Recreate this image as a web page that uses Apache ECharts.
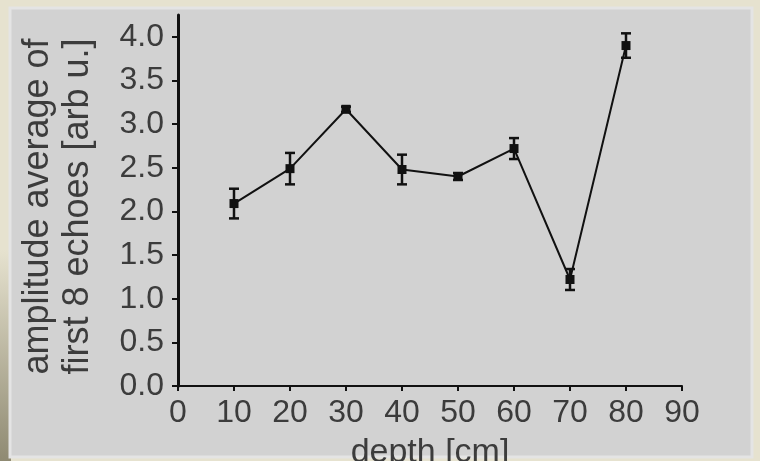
<!DOCTYPE html>
<html>
<head>
<meta charset="utf-8">
<script src="https://cdn.jsdelivr.net/npm/echarts@6/dist/echarts.min.js"></script>
<style>
  html, body { margin: 0; padding: 0; background: #e6e2cf; }
  #main { width: 760px; height: 461px; }
</style>
</head>
<body>
<div id="main"></div>
<script>
// depth in cm, amplitude average of first 8 echoes, +/- error
const depth = [10, 20, 30, 40, 50, 60, 70, 80]
const amplitude = [2.09, 2.49, 3.17, 2.48, 2.40, 2.72, 1.22, 3.90]
const errors = [0.17, 0.18, 0.03, 0.17, 0.04, 0.12, 0.12, 0.14]
const yTicks = [0, 0.5, 1.0, 1.5, 2.0, 2.5, 3.0, 3.5, 4.0]

const chart = echarts.init(document.getElementById('main'))

const points = depth.map((d, i) => [d, amplitude[i]])
const bars = depth.map((d, i) => [d, amplitude[i] - errors[i], amplitude[i] + errors[i]])

const labelFont = { fontFamily: 'Liberation Sans', fontSize: 32, color: '#3c3c3c' }
const nameFont = { fontFamily: 'Liberation Sans', fontSize: 34, color: '#3c3c3c' }

const option = {
  backgroundColor: '#e6e2cf',
  animation: false,
  graphic: [
    {
      type: 'rect', z: -10, silent: true,
      shape: { x: 0, y: 250, width: 11, height: 211 },
      style: {
        fill: new echarts.graphic.LinearGradient(0, 0, 0, 1, [
          { offset: 0, color: '#e6e2cf' },
          { offset: 1, color: '#8f8a72' }
        ])
      }
    },
    {
      type: 'rect', z: -9, silent: true,
      shape: { x: 10, y: 8, width: 742, height: 449 },
      style: { fill: '#d2d2d2', stroke: '#e4e4e4', lineWidth: 3 }
    }
  ],
  grid: { left: 178, right: 78, top: 15, bottom: 75, containLabel: false, outerBoundsMode: 'none' },
  xAxis: {
    type: 'value',
    min: 0, max: 90, interval: 10,
    name: 'depth [cm]',
    nameLocation: 'middle',
    nameGap: 50,
    nameTextStyle: nameFont,
    axisLine: { lineStyle: { color: '#111', width: 2 } },
    axisTick: { length: 5, lineStyle: { color: '#111', width: 2 } },
    axisLabel: Object.assign({ margin: 11 }, labelFont),
    splitLine: { show: false }
  },
  yAxis: {
    type: 'value',
    min: 0, max: 4.25,
    name: 'amplitude average of\nfirst 8 echoes [arb u.]',
    nameLocation: 'middle',
    nameRotate: 90,
    nameGap: 80,
    nameTextStyle: Object.assign({ lineHeight: 40, padding: [0, 12, 0, 0] }, nameFont, { fontSize: 36 }),
    axisLine: { lineStyle: { color: '#111', width: 3 } },
    axisTick: { length: 6, customValues: yTicks, lineStyle: { color: '#111', width: 2 } },
    axisLabel: Object.assign({
      margin: 14,
      customValues: yTicks,
      formatter: v => v.toFixed(1)
    }, labelFont),
    splitLine: { show: false }
  },
  series: [
    {
      type: 'line',
      data: points,
      symbol: 'rect',
      symbolSize: 9,
      lineStyle: { color: '#111', width: 2 },
      itemStyle: { color: '#111' },
      z: 3
    },
    {
      type: 'custom',
      data: bars,
      z: 4,
      renderItem: (params, api) => {
        const x = api.value(0)
        const lo = api.coord([x, api.value(1)])
        const hi = api.coord([x, api.value(2)])
        const cap = 5
        const style = { stroke: '#111', lineWidth: 2.5 }
        return {
          type: 'group',
          children: [
            { type: 'line', shape: { x1: lo[0], y1: lo[1], x2: hi[0], y2: hi[1] }, style },
            { type: 'line', shape: { x1: lo[0] - cap, y1: lo[1], x2: lo[0] + cap, y2: lo[1] }, style },
            { type: 'line', shape: { x1: hi[0] - cap, y1: hi[1], x2: hi[0] + cap, y2: hi[1] }, style }
          ]
        }
      }
    }
  ]
}

chart.setOption(option)
</script>
</body>
</html>
